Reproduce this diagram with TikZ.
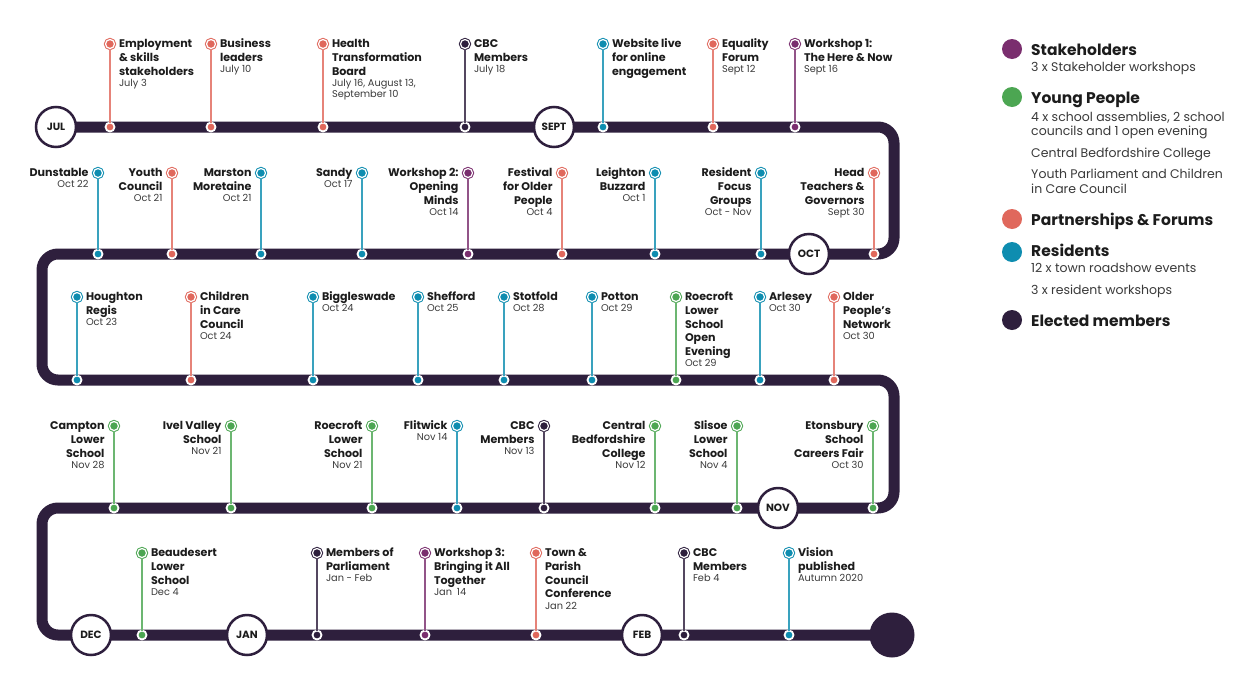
\documentclass[tikz,border=0pt]{standalone}
\usepackage{fontspec}
\setmainfont{Poppins}
\usepackage{array}
\usetikzlibrary{backgrounds}
\definecolor{cStake}{HTML}{7A2E6E}
\definecolor{cYoung}{HTML}{4CA652}
\definecolor{cPart}{HTML}{E0685C}
\definecolor{cRes}{HTML}{0E8DB0}
\definecolor{cElec}{HTML}{2E1F3D}
\definecolor{cText}{HTML}{1C1C1C}
\definecolor{cSub}{HTML}{3A3A3A}
\newcommand\datefont{\fontsize{9.8}{11}\selectfont\color{cSub}}
\newcommand\LR[2]{\begin{tabular}[t]{@{}>{\bfseries}l@{}}#1\\[-2.4pt]\mdseries\datefont #2\end{tabular}}
\newcommand\LL[2]{\begin{tabular}[t]{@{}>{\bfseries}r@{}}#1\\[-2.4pt]\mdseries\datefont #2\end{tabular}}
\newcommand\LRn[1]{\begin{tabular}[t]{@{}>{\bfseries}l@{}}#1\end{tabular}}
\tikzset{
  topm/.style={circle, inner sep=0pt, outer sep=0pt, minimum size=9pt, fill=#1, draw=#1, double=white, double distance=1.2pt, line width=1pt},
  botm/.style={circle, inner sep=0pt, outer sep=0pt, minimum size=9pt, fill=#1, draw=white, line width=1.8pt},
  stem/.style={draw=#1!82!white, line width=1.3pt},
  lab/.style={inner sep=0pt, outer sep=0pt, text=cText, font=\fontsize{11.1}{13.7}\selectfont},
  month/.style={circle, inner sep=0pt, minimum size=40pt, fill=white, draw=cElec, line width=2.5pt, text=cText, font=\bfseries\fontsize{10.5}{12}\selectfont},
  track/.style={draw=cElec, line width=11pt, rounded corners=16pt},
  legdot/.style={circle, inner sep=0pt, minimum size=20pt, fill=#1},
  leghead/.style={anchor=base west, inner sep=0pt, text=cText, font=\bfseries\fontsize{15.5}{17}\selectfont},
  legbody/.style={anchor=base west, inner sep=0pt, text=cSub, font=\fontsize{12.5}{14}\selectfont},
}
\newcommand\evR[6]{%
  \node[topm=#5] (t#1) at (#2,#3) {};
  \node[botm=#5] (b#1) at (#2,#4) {};
  \draw[stem=#5] (b#1) -- (t#1);
  \node[lab, anchor=base west] (l#1) at ([xshift=9pt,yshift=-3.6pt]t#1.center) {#6};}
\newcommand\evL[6]{%
  \node[topm=#5] (t#1) at (#2,#3) {};
  \node[botm=#5] (b#1) at (#2,#4) {};
  \draw[stem=#5] (b#1) -- (t#1);
  \node[lab, anchor=base east] (l#1) at ([xshift=-9.5pt,yshift=-3.6pt]t#1.center) {#6};}
\begin{document}
\begin{tikzpicture}[x=1pt,y=-1pt]
\useasboundingbox (0,0) rectangle (1251,675);
% months
\node[month] (jul) at (56,127) {JUL};
\node[month] (sept) at (554,127) {SEPT};
\node[month] (oct) at (809,254) {OCT};
\node[month] (nov) at (778,508) {NOV};
\node[month] (dec) at (91,635) {DEC};
\node[month] (jan) at (247,635) {JAN};
\node[month] (feb) at (642,635) {FEB};
\node[circle, inner sep=0pt, minimum size=45pt, fill=cElec] (fin) at (892,635) {};
\begin{scope}[on background layer]
\fill[white] (0,0) rectangle (1251,675);
\draw[track] (jul.center) -- (894,127) -- (894,254) -- (42,254) -- (42,380) -- (894,380) -- (894,508) -- (42,508) -- (42,635) -- (fin.center);
\end{scope}
% row 1
\evR{1}{110}{44}{127}{cPart}{\LR{Employment\\\& skills\\stakeholders}{July 3}}
\evR{2}{211}{44}{127}{cPart}{\LR{Business\\leaders}{July 10}}
\evR{3}{323}{44}{127}{cPart}{\LR{Health\\Transformation\\Board}{July 16, August 13,\\[-2.7pt]\mdseries\datefont September 10}}
\evR{4}{465}{44}{127}{cElec}{\LR{CBC\\Members}{July 18}}
\evR{5}{603}{44}{127}{cRes}{\LRn{Website live\\for online\\engagement}}
\evR{6}{713}{44}{127}{cPart}{\LR{Equality\\Forum}{Sept 12}}
\evR{7}{795}{44}{127}{cStake}{\LR{Workshop 1:\\The Here \& Now}{Sept 16}}
% row 2
\evL{8}{98}{173}{254}{cRes}{\LL{Dunstable}{Oct 22}}
\evL{9}{172}{173}{254}{cPart}{\LL{Youth\\Council}{Oct 21}}
\evL{10}{261}{173}{254}{cRes}{\LL{Marston\\Moretaine}{Oct 21}}
\evL{11}{362}{173}{254}{cRes}{\LL{Sandy}{Oct 17}}
\evL{12}{468}{173}{254}{cStake}{\LL{Workshop 2:\\Opening\\Minds}{Oct 14}}
\evL{13}{562}{173}{254}{cPart}{\LL{Festival\\for Older\\People}{Oct 4}}
\evL{14}{655}{173}{254}{cRes}{\LL{Leighton\\Buzzard}{Oct 1}}
\evL{15}{761}{173}{254}{cRes}{\LL{Resident\\Focus\\Groups}{Oct - Nov}}
\evL{16}{874}{173}{254}{cPart}{\LL{Head\\Teachers \&\\Governors}{Sept 30}}
% row 3
\evR{17}{77}{297}{380}{cRes}{\LR{Houghton\\Regis}{Oct 23}}
\evR{18}{191}{297}{380}{cPart}{\LR{Children\\in Care\\Council}{Oct 24}}
\evR{19}{313}{297}{380}{cRes}{\LR{Biggleswade}{Oct 24}}
\evR{20}{418}{297}{380}{cRes}{\LR{Shefford}{Oct 25}}
\evR{21}{504}{297}{380}{cRes}{\LR{Stotfold}{Oct 28}}
\evR{22}{592}{297}{380}{cRes}{\LR{Potton}{Oct 29}}
\evR{23}{676}{297}{380}{cYoung}{\LR{Roecroft\\Lower\\School\\Open\\Evening}{Oct 29}}
\evR{24}{760}{297}{380}{cRes}{\LR{Arlesey}{Oct 30}}
\evR{25}{834}{297}{380}{cPart}{\LR{Older\\People’s\\Network}{Oct 30}}
% row 4
\evL{26}{114}{426}{508}{cYoung}{\LL{Campton\\Lower\\School}{Nov 28}}
\evL{27}{231}{426}{508}{cYoung}{\LL{Ivel Valley\\School}{Nov 21}}
\evL{28}{372}{426}{508}{cYoung}{\LL{Roecroft\\Lower\\School}{Nov 21}}
\evL{29}{457}{426}{508}{cRes}{\LL{Flitwick}{Nov 14}}
\evL{30}{544}{426}{508}{cElec}{\LL{CBC\\Members}{Nov 13}}
\evL{31}{655}{426}{508}{cYoung}{\LL{Central\\Bedfordshire\\College}{Nov 12}}
\evL{32}{737}{426}{508}{cYoung}{\LL{Slisoe\\Lower\\School}{Nov 4}}
\evL{33}{873}{426}{508}{cYoung}{\LL{Etonsbury\\School\\Careers Fair}{Oct 30}}
% row 5
\evR{34}{142}{553}{635}{cYoung}{\LR{Beaudesert\\Lower\\School}{Dec 4}}
\evR{35}{317}{553}{635}{cElec}{\LR{Members of\\Parliament}{Jan - Feb}}
\evR{36}{425}{553}{635}{cStake}{\LR{Workshop 3:\\Bringing it All\\Together}{Jan\enspace14}}
\evR{37}{536}{553}{635}{cPart}{\LR{Town \&\\Parish\\Council\\Conference}{Jan 22}}
\evR{38}{684}{553}{635}{cElec}{\LR{CBC\\Members}{Feb 4}}
\evR{39}{789}{553}{635}{cRes}{\LR{Vision\\published}{Autumn 2020}}
% legend
\node[legdot=cStake] (d1) at (1012,49) {};
\node[leghead] (h1) at (1031,55) {Stakeholders};
\node[legbody] (s1a) at (1031,71) {3 x Stakeholder workshops};
\node[legdot=cYoung] (d2) at (1012,97) {};
\node[leghead] (h2) at (1031,103) {Young People};
\node[legbody] (s2a) at (1031,121) {4 x school assemblies, 2 school};
\node[legbody] (s2b) at (1031,135) {councils and 1 open evening};
\node[legbody] (s2c) at (1031,157) {Central Bedfordshire College};
\node[legbody] (s2d) at (1031,178) {Youth Parliament and Children};
\node[legbody] (s2e) at (1031,193) {in Care Council};
\node[legdot=cPart] (d3) at (1012,219) {};
\node[leghead] (h3) at (1031,225) {Partnerships \& Forums};
\node[legdot=cRes] (d4) at (1012,252) {};
\node[leghead] (h4) at (1031,256) {Residents};
\node[legbody] (s4a) at (1031,272) {12 x town roadshow events};
\node[legbody] (s4b) at (1031,294) {3 x resident workshops};
\node[legdot=cElec] (d5) at (1012,320) {};
\node[leghead] (h5) at (1031,326) {Elected members};
\end{tikzpicture}
\end{document}
